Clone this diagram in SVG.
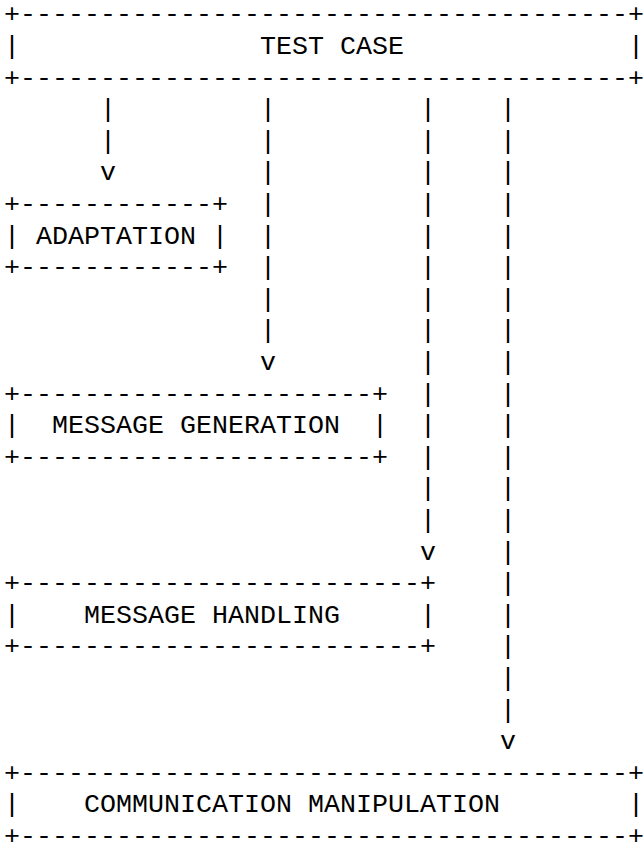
<svg xmlns="http://www.w3.org/2000/svg" width="644" height="852" viewBox="0 0 644 852">
<style>
.t { font-family: "Courier New", "Nimbus Mono PS", "FreeMono", "Liberation Mono", monospace; font-size: 26.667px; fill: #000; }
</style>
<rect x="0" y="0" width="644" height="852" fill="#fff"/>
<g id="test-case">
<text x="4" y="22.3" class="t" textLength="640" lengthAdjust="spacing">+--------------------------------------+</text>
<text x="4" y="53.9" class="t">|</text>
<text x="260" y="53.9" class="t">TEST CASE</text>
<text x="628" y="53.9" class="t">|</text>
<text x="4" y="85.5" class="t" textLength="640" lengthAdjust="spacing">+--------------------------------------+</text>
</g>
<g id="adaptation">
<text x="4" y="211.9" class="t" textLength="224" lengthAdjust="spacing">+------------+</text>
<text x="4" y="243.5" class="t">|</text>
<text x="36" y="243.5" class="t">ADAPTATION</text>
<text x="212" y="243.5" class="t">|</text>
<text x="4" y="275.1" class="t" textLength="224" lengthAdjust="spacing">+------------+</text>
</g>
<g id="message-generation">
<text x="4" y="401.5" class="t" textLength="384" lengthAdjust="spacing">+----------------------+</text>
<text x="4" y="433.1" class="t">|</text>
<text x="52" y="433.1" class="t">MESSAGE GENERATION</text>
<text x="372" y="433.1" class="t">|</text>
<text x="4" y="464.7" class="t" textLength="384" lengthAdjust="spacing">+----------------------+</text>
</g>
<g id="message-handling">
<text x="4" y="591.1" class="t" textLength="432" lengthAdjust="spacing">+-------------------------+</text>
<text x="4" y="622.7" class="t">|</text>
<text x="84" y="622.7" class="t">MESSAGE HANDLING</text>
<text x="420" y="622.7" class="t">|</text>
<text x="4" y="654.3" class="t" textLength="432" lengthAdjust="spacing">+-------------------------+</text>
</g>
<g id="communication-manipulation">
<text x="4" y="780.7" class="t" textLength="640" lengthAdjust="spacing">+--------------------------------------+</text>
<text x="4" y="812.3" class="t">|</text>
<text x="84" y="812.3" class="t">COMMUNICATION MANIPULATION</text>
<text x="628" y="812.3" class="t">|</text>
<text x="4" y="843.9" class="t" textLength="640" lengthAdjust="spacing">+--------------------------------------+</text>
</g>
<g id="connectors">
<text class="t"><tspan x="100" y="117.1">|</tspan><tspan x="100" y="148.7">|</tspan><tspan x="100" y="180.3">v</tspan></text>
<text class="t"><tspan x="260" y="117.1">|</tspan><tspan x="260" y="148.7">|</tspan><tspan x="260" y="180.3">|</tspan><tspan x="260" y="211.9">|</tspan><tspan x="260" y="243.5">|</tspan><tspan x="260" y="275.1">|</tspan><tspan x="260" y="306.7">|</tspan><tspan x="260" y="338.3">|</tspan><tspan x="260" y="369.9">v</tspan></text>
<text class="t"><tspan x="420" y="117.1">|</tspan><tspan x="420" y="148.7">|</tspan><tspan x="420" y="180.3">|</tspan><tspan x="420" y="211.9">|</tspan><tspan x="420" y="243.5">|</tspan><tspan x="420" y="275.1">|</tspan><tspan x="420" y="306.7">|</tspan><tspan x="420" y="338.3">|</tspan><tspan x="420" y="369.9">|</tspan><tspan x="420" y="401.5">|</tspan><tspan x="420" y="433.1">|</tspan><tspan x="420" y="464.7">|</tspan><tspan x="420" y="496.3">|</tspan><tspan x="420" y="527.9">|</tspan><tspan x="420" y="559.5">v</tspan></text>
<text class="t"><tspan x="500" y="117.1">|</tspan><tspan x="500" y="148.7">|</tspan><tspan x="500" y="180.3">|</tspan><tspan x="500" y="211.9">|</tspan><tspan x="500" y="243.5">|</tspan><tspan x="500" y="275.1">|</tspan><tspan x="500" y="306.7">|</tspan><tspan x="500" y="338.3">|</tspan><tspan x="500" y="369.9">|</tspan><tspan x="500" y="401.5">|</tspan><tspan x="500" y="433.1">|</tspan><tspan x="500" y="464.7">|</tspan><tspan x="500" y="496.3">|</tspan><tspan x="500" y="527.9">|</tspan><tspan x="500" y="559.5">|</tspan><tspan x="500" y="591.1">|</tspan><tspan x="500" y="622.7">|</tspan><tspan x="500" y="654.3">|</tspan><tspan x="500" y="685.9">|</tspan><tspan x="500" y="717.5">|</tspan><tspan x="500" y="749.1">v</tspan></text>
</g>
</svg>
